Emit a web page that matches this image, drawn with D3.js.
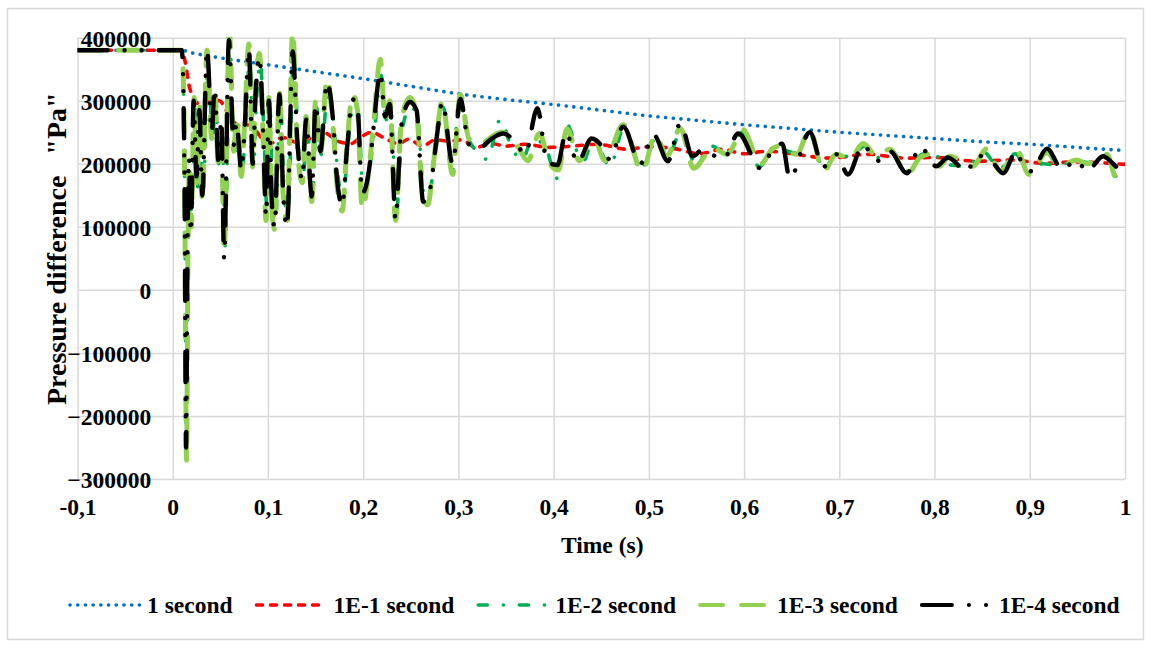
<!DOCTYPE html>
<html>
<head>
<meta charset="utf-8">
<script src="https://cdn.jsdelivr.net/npm/d3@7/dist/d3.min.js"></script>
<style>
  html, body { margin: 0; padding: 0; background: #fff; }
  svg { display: block; }
  text { font-family: "Liberation Serif", "Times New Roman", serif; font-weight: bold; fill: #000; }
</style>
</head>
<body>
<svg id="chart" width="1151" height="648"></svg>
<script>
// ---- data: [time (s), pressure difference (Pa)] ----
const xTickValues = [-0.1, 0, 0.1, 0.2, 0.3, 0.4, 0.5, 0.6, 0.7, 0.8, 0.9, 1];
const xTickLabels = ["-0,1", "0", "0,1", "0,2", "0,3", "0,4", "0,5", "0,6", "0,7", "0,8", "0,9", "1"];
const yTickValues = [-300000, -200000, -100000, 0, 100000, 200000, 300000, 400000];

const seriesNames = ["1 second", "1E-1 second", "1E-2 second", "1E-3 second", "1E-4 second"];

const pressure1s = [
  [-0.1, 380000], [0.0095, 380000], [0.02, 376000], [0.05, 368000], [0.1, 357000],
  [0.15, 346000], [0.2, 335000], [0.25, 323000], [0.3, 311000], [0.35, 302000],
  [0.4, 294000], [0.45, 285000], [0.5, 276000], [0.55, 269000], [0.6, 262000],
  [0.65, 256000], [0.7, 250000], [0.75, 245000], [0.8, 240000], [0.85, 235000],
  [0.9, 231000], [0.95, 226000], [1.0, 221000]
];

const pressure1e1 = [
  [-0.1, 380000], [0.0095, 380000], [0.013, 362000], [0.018, 319000], [0.029, 294000],
  [0.039, 302000], [0.049, 300000], [0.060, 275000], [0.070, 260000], [0.081, 262000],
  [0.094, 240000], [0.104, 233000], [0.115, 242000], [0.125, 236000], [0.138, 232000],
  [0.152, 254000], [0.162, 248000], [0.175, 235000], [0.187, 232000], [0.198, 243000],
  [0.209, 250000], [0.222, 241000], [0.237, 232000], [0.248, 239000], [0.262, 228000],
  [0.276, 238000], [0.290, 236000], [0.304, 238000], [0.318, 226000], [0.335, 232000],
  [0.350, 228000], [0.370, 231000], [0.395, 226000], [0.420, 228000], [0.445, 231000],
  [0.478, 223000], [0.500, 227000], [0.527, 224000], [0.553, 216000], [0.577, 223000],
  [0.600, 216000], [0.625, 220000], [0.650, 216000], [0.690, 209000], [0.730, 215000],
  [0.770, 209000], [0.800, 210000], [0.845, 204000], [0.880, 206000], [0.915, 201000],
  [0.950, 203000], [1.0, 199000]
];

const pressure1e2 = [
  [-0.1, 380000], [0.0095, 380000], [0.011, 340000], [0.0125, 170000], [0.0145, -240000],
  [0.016, 40000], [0.018, 190000], [0.020, 100000], [0.023, 290000], [0.026, 160000],
  [0.029, 280000], [0.032, 150000], [0.037, 360000], [0.042, 240000], [0.045, 310000],
  [0.049, 190000], [0.052, 255000], [0.055, 70000], [0.060, 380000], [0.065, 215000],
  [0.068, 260000], [0.073, 185000], [0.076, 250000], [0.081, 370000], [0.085, 195000],
  [0.088, 300000], [0.092, 360000], [0.096, 240000], [0.099, 125000], [0.102, 290000],
  [0.105, 140000], [0.108, 110000], [0.113, 300000], [0.117, 160000], [0.121, 110000],
  [0.127, 380000], [0.132, 225000], [0.137, 180000], [0.141, 265000], [0.147, 150000],
  [0.151, 290000], [0.156, 215000], [0.163, 320000], [0.168, 280000], [0.174, 175000],
  [0.179, 145000], [0.184, 230000], [0.190, 295000], [0.195, 280000], [0.200, 150000],
  [0.208, 205000], [0.212, 255000], [0.219, 340000], [0.224, 270000], [0.229, 285000],
  [0.235, 125000], [0.241, 255000], [0.250, 290000], [0.257, 275000], [0.264, 150000],
  [0.269, 150000], [0.274, 195000], [0.279, 250000], [0.284, 290000], [0.294, 190000],
  [0.300, 290000], [0.312, 235000], [0.323, 215000], [0.330, 207000], [0.344, 270000],
  [0.356, 225000], [0.367, 207000], [0.378, 240000], [0.392, 225000], [0.403, 177000],
  [0.414, 262000], [0.427, 210000], [0.431, 204000], [0.442, 240000], [0.459, 196000],
  [0.474, 258000], [0.492, 193000], [0.507, 240000], [0.521, 215000], [0.534, 252000],
  [0.549, 200000], [0.566, 228000], [0.583, 213000], [0.598, 250000], [0.616, 195000],
  [0.631, 226000], [0.655, 217000], [0.668, 250000], [0.684, 192000], [0.698, 218000],
  [0.712, 210000], [0.726, 228000], [0.740, 210000], [0.755, 220000], [0.771, 188000],
  [0.787, 215000], [0.799, 218000], [0.810, 200000], [0.834, 196000], [0.852, 218000],
  [0.868, 192000], [0.885, 216000], [0.897, 187000], [0.914, 200000], [0.930, 198000],
  [0.949, 205000], [0.961, 202000], [0.981, 214000], [0.991, 180000], [1.0, 190000]
];

const pressure1e3 = [
  [-0.1, 380000], [0.0095, 380000], [0.011, 345000], [0.0125, 180000], [0.0145, -270000],
  [0.016, 60000], [0.0175, 200000], [0.0195, 100000], [0.0225, 305000], [0.025, 170000],
  [0.0285, 290000], [0.031, 140000], [0.036, 380000], [0.041, 240000], [0.044, 320000],
  [0.048, 195000], [0.051, 260000], [0.054, 60000], [0.0595, 410000], [0.064, 220000],
  [0.067, 270000], [0.072, 180000], [0.075, 250000], [0.080, 390000], [0.084, 195000],
  [0.087, 320000], [0.091, 375000], [0.095, 240000], [0.098, 110000], [0.101, 305000],
  [0.104, 130000], [0.107, 96000], [0.112, 315000], [0.116, 150000], [0.120, 110000],
  [0.126, 410000], [0.131, 225000], [0.136, 170000], [0.140, 275000], [0.146, 140000],
  [0.150, 300000], [0.155, 215000], [0.162, 335000], [0.167, 285000], [0.173, 160000],
  [0.178, 125000], [0.183, 230000], [0.189, 310000], [0.194, 285000], [0.199, 128000],
  [0.207, 205000], [0.211, 265000], [0.218, 366000], [0.223, 270000], [0.228, 300000],
  [0.234, 110000], [0.240, 265000], [0.249, 305000], [0.256, 280000], [0.263, 145000],
  [0.268, 135000], [0.273, 190000], [0.278, 255000], [0.283, 300000], [0.294, 183000],
  [0.302, 310000], [0.311, 240000], [0.322, 232000], [0.345, 250000], [0.362, 228000],
  [0.373, 205000], [0.385, 248000], [0.396, 200000], [0.405, 190000], [0.414, 255000],
  [0.427, 205000], [0.441, 246000], [0.454, 205000], [0.473, 262000], [0.493, 188000],
  [0.507, 246000], [0.519, 212000], [0.533, 256000], [0.547, 193000], [0.567, 225000],
  [0.582, 215000], [0.599, 254000], [0.617, 199000], [0.630, 224000], [0.637, 228000],
  [0.655, 215000], [0.669, 254000], [0.683, 188000], [0.697, 215000], [0.711, 208000],
  [0.725, 232000], [0.739, 213000], [0.753, 223000], [0.771, 183000], [0.785, 210000],
  [0.798, 216000], [0.805, 196000], [0.816, 212000], [0.840, 196000], [0.855, 224000],
  [0.869, 188000], [0.887, 220000], [0.899, 183000], [0.918, 218000], [0.931, 196000],
  [0.949, 206000], [0.960, 200000], [0.981, 215000], [0.991, 177000], [1.0, 191000]
];

const pressure1e4 = [
  [-0.1, 380000], [0.0095, 380000], [0.011, 330000], [0.0125, 150000], [0.014, -250000],
  [0.0155, 60000], [0.017, 210000], [0.019, 90000], [0.022, 300000], [0.025, 180000],
  [0.028, 285000], [0.031, 150000], [0.036, 382000], [0.041, 250000], [0.044, 320000],
  [0.048, 205000], [0.051, 270000], [0.054, 50000], [0.059, 396000], [0.064, 230000],
  [0.067, 265000], [0.072, 190000], [0.075, 240000], [0.080, 382000], [0.084, 200000],
  [0.087, 310000], [0.091, 370000], [0.095, 250000], [0.098, 117000], [0.101, 300000],
  [0.104, 140000], [0.107, 100000], [0.112, 310000], [0.116, 153000], [0.120, 100000],
  [0.126, 378000], [0.131, 232000], [0.136, 175000], [0.140, 270000], [0.146, 148000],
  [0.150, 295000], [0.155, 220000], [0.162, 330000], [0.167, 291000], [0.173, 169000],
  [0.178, 133000], [0.183, 223000], [0.189, 302000], [0.194, 290000], [0.199, 153000],
  [0.207, 200000], [0.211, 259000], [0.218, 345000], [0.223, 275000], [0.228, 295000],
  [0.234, 112000], [0.240, 260000], [0.249, 298000], [0.256, 285000], [0.263, 140000],
  [0.268, 145000], [0.273, 188000], [0.278, 251000], [0.283, 298000], [0.294, 200000],
  [0.302, 303000], [0.311, 231000], [0.322, 225000], [0.335, 240000], [0.347, 248000],
  [0.361, 232000], [0.370, 215000], [0.383, 288000], [0.393, 204000], [0.404, 198000],
  [0.413, 250000], [0.425, 202000], [0.440, 240000], [0.449, 231000], [0.459, 207000],
  [0.473, 259000], [0.491, 200000], [0.505, 246000], [0.520, 204000], [0.533, 264000],
  [0.546, 212000], [0.556, 222000], [0.578, 207000], [0.594, 248000], [0.617, 193000],
  [0.630, 222000], [0.640, 232000], [0.648, 177000], [0.669, 250000], [0.683, 195000],
  [0.697, 215000], [0.709, 183000], [0.725, 230000], [0.739, 204000], [0.753, 220000],
  [0.771, 185000], [0.785, 227000], [0.802, 196000], [0.814, 210000], [0.834, 188000],
  [0.844, 213000], [0.860, 204000], [0.872, 185000], [0.886, 220000], [0.893, 196000],
  [0.902, 188000], [0.918, 224000], [0.934, 191000], [0.949, 206000], [0.960, 188000],
  [0.977, 212000], [0.987, 201000], [0.997, 188000], [1.0, 190000]
];

const seriesData = [pressure1s, pressure1e1, pressure1e2, pressure1e3, pressure1e4];

// ---- line styles, in drawing order ----
const seriesStyles = [
  { color: "#0070C0", width: 3.6, dash: "0.1 7.6" },
  { color: "#FF0000", width: 3.6, dash: "6 8" },
  { color: "#00B050", width: 3.6, dash: "9 16 0.1 16" },
  { color: "#92D050", width: 5,   dash: "23 18" },
  { color: "#000000", width: 4.4, dash: "30 17 0.1 17 0.1 17" }
];

// ---- layout ----
const svg = d3.select("#chart");
const plot = { left: 77.5, right: 1125, top: 37.7, bottom: 479 };
const fontSize = 23.5;
const titleFontSize = 28;

const x = d3.scaleLinear().domain([-0.1, 1]).range([plot.left, plot.right]);
const y = d3.scaleLinear().domain([-300000, 400000]).range([plot.bottom, plot.top]);

// outer chart border
svg.append("rect")
  .attr("x", 7.5).attr("y", 8.5)
  .attr("width", 1136).attr("height", 631)
  .attr("fill", "#fff").attr("stroke", "#D9D9D9").attr("stroke-width", 1.5);

// gridlines
const gridX = svg.append("g")
  .attr("transform", `translate(0,${plot.bottom})`)
  .call(d3.axisBottom(x).tickValues(xTickValues).tickSize(-(plot.bottom - plot.top)).tickFormat(""));
const gridY = svg.append("g")
  .attr("transform", `translate(${plot.left},0)`)
  .call(d3.axisLeft(y).tickValues(yTickValues).tickSize(-(plot.right - plot.left)).tickFormat(""));
[gridX, gridY].forEach(g => {
  g.select(".domain").remove();
  g.selectAll(".tick line").attr("stroke", "#D9D9D9").attr("stroke-width", 1.5);
});

// series, clipped to the plot area
svg.append("clipPath").attr("id", "plotClip")
  .append("rect")
  .attr("x", plot.left).attr("y", plot.top - 1)
  .attr("width", plot.right - plot.left).attr("height", plot.bottom - plot.top + 1);

const line = d3.line()
  .x(d => x(d[0]))
  .y(d => y(d[1]))
  .curve(d3.curveMonotoneX);

const seriesG = svg.append("g").attr("clip-path", "url(#plotClip)");
seriesData.forEach((data, i) => {
  const st = seriesStyles[i];
  seriesG.append("path")
    .datum(data)
    .attr("d", line)
    .attr("fill", "none")
    .attr("stroke", st.color)
    .attr("stroke-width", st.width)
    .attr("stroke-dasharray", st.dash)
    .attr("stroke-linecap", "round")
    .attr("stroke-linejoin", "round");
});

// y tick labels next to the vertical axis at t = 0
const yAxis = svg.append("g")
  .attr("transform", `translate(${x(0)},0)`)
  .call(d3.axisLeft(y).tickValues(yTickValues).tickSize(0).tickPadding(21.5).tickFormat(d3.format("d")));
yAxis.select(".domain").remove();
yAxis.selectAll("text")
  .attr("dy", null).attr("y", 8.3)
  .style("font-size", fontSize + "px")
  .style("font-family", "'Liberation Serif', 'Times New Roman', serif")
  .style("font-weight", "bold");

// x tick labels
const xAxis = svg.append("g")
  .attr("transform", `translate(0,${plot.bottom})`)
  .call(d3.axisBottom(x).tickValues(xTickValues).tickSize(0)
    .tickFormat((d, i) => xTickLabels[i]));
xAxis.select(".domain").remove();
xAxis.selectAll("text")
  .attr("dy", null).attr("y", 36)
  .style("font-size", fontSize + "px")
  .style("font-family", "'Liberation Serif', 'Times New Roman', serif")
  .style("font-weight", "bold");

// axis titles
svg.append("text")
  .attr("x", (plot.left + plot.right) / 2 + 1).attr("y", 553)
  .attr("text-anchor", "middle")
  .style("font-size", fontSize + "px")
  .text("Time (s)");

svg.append("text")
  .attr("transform", `translate(66,405) rotate(-90)`)
  .attr("text-anchor", "start")
  .style("font-size", titleFontSize + "px")
  .style("white-space", "pre")
  .text('Pressure difference   "Pa"');

// legend
const legend = svg.append("g");
let lx = 70;
const legendY = 605;
seriesNames.forEach((name, i) => {
  const st = seriesStyles[i];
  legend.append("line")
    .attr("x1", lx).attr("x2", lx + 70)
    .attr("y1", legendY).attr("y2", legendY)
    .attr("stroke", st.color)
    .attr("stroke-width", Math.min(st.width, 4))
    .attr("stroke-dasharray", st.dash)
    .attr("stroke-linecap", "round");
  const t = legend.append("text")
    .attr("x", lx + 77).attr("y", legendY + 8.3)
    .style("font-size", fontSize + "px")
    .text(name);
  lx = lx + 77 + t.node().getComputedTextLength() + 24;
});
</script>
</body>
</html>
